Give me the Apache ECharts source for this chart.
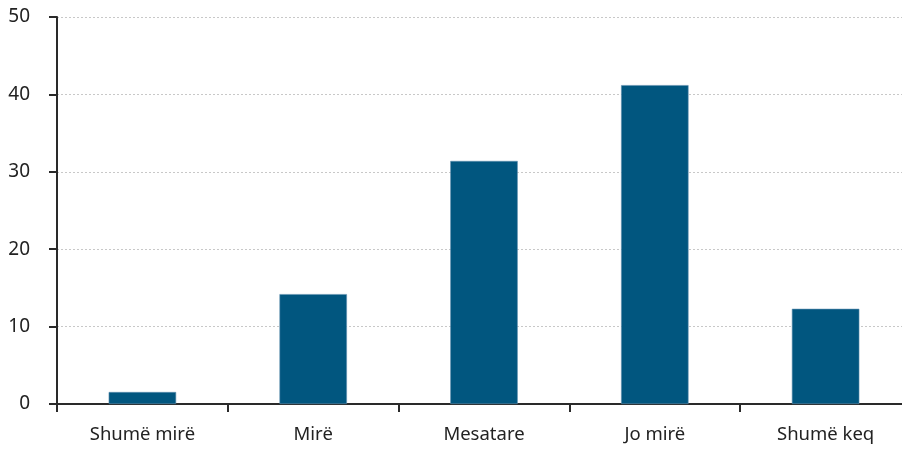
<!DOCTYPE html>
<html><head><meta charset="utf-8">
<script src="https://cdn.jsdelivr.net/npm/echarts@6/dist/echarts.min.js"></script>
<style>html,body{margin:0;padding:0;background:#fff;overflow:hidden}#c{width:911px;height:450px}</style>
</head><body><div id="c"></div>
<script>
const categories = ['Shumë mirë', 'Mirë', 'Mesatare', 'Jo mirë', 'Shumë keq'];
const values = [1.55, 14.2, 31.4, 41.2, 12.3];
const yTicks = [0, 10, 20, 30, 40, 50];

const chart = echarts.init(document.getElementById('c'), null, {renderer: 'canvas'});
chart.setOption({
  animation: false,
  grid: {left: 57, right: 0, top: 17, bottom: 46, containLabel: false},
  xAxis: {
    type: 'category', data: categories,
    axisLine: {lineStyle: {color: '#2a2a2a', width: 2}},
    axisTick: {show: true, length: 8, lineStyle: {color: '#2a2a2a', width: 2}},
    axisLabel: {color: '#222', fontSize: 18.5, fontFamily: 'Noto Sans', margin: 21}
  },
  yAxis: {
    type: 'value', min: yTicks[0], max: yTicks[yTicks.length-1], interval: 10,
    axisLine: {show: true, lineStyle: {color: '#2a2a2a', width: 2}},
    axisTick: {show: true, length: 8, lineStyle: {color: '#2a2a2a', width: 2}},
    axisLabel: {color: '#222', fontSize: 19, fontFamily: 'Noto Sans', margin: 27},
    splitLine: {show: true, lineStyle: {color: '#c8c8c8', type: [2, 2], width: 1}}
  },
  series: [{
    type: 'bar', data: values, barWidth: '39.5%',
    itemStyle: {color: '#01567f', borderColor: '#5f8fae', borderWidth: 0.6}
  }]
});
</script></body></html>
